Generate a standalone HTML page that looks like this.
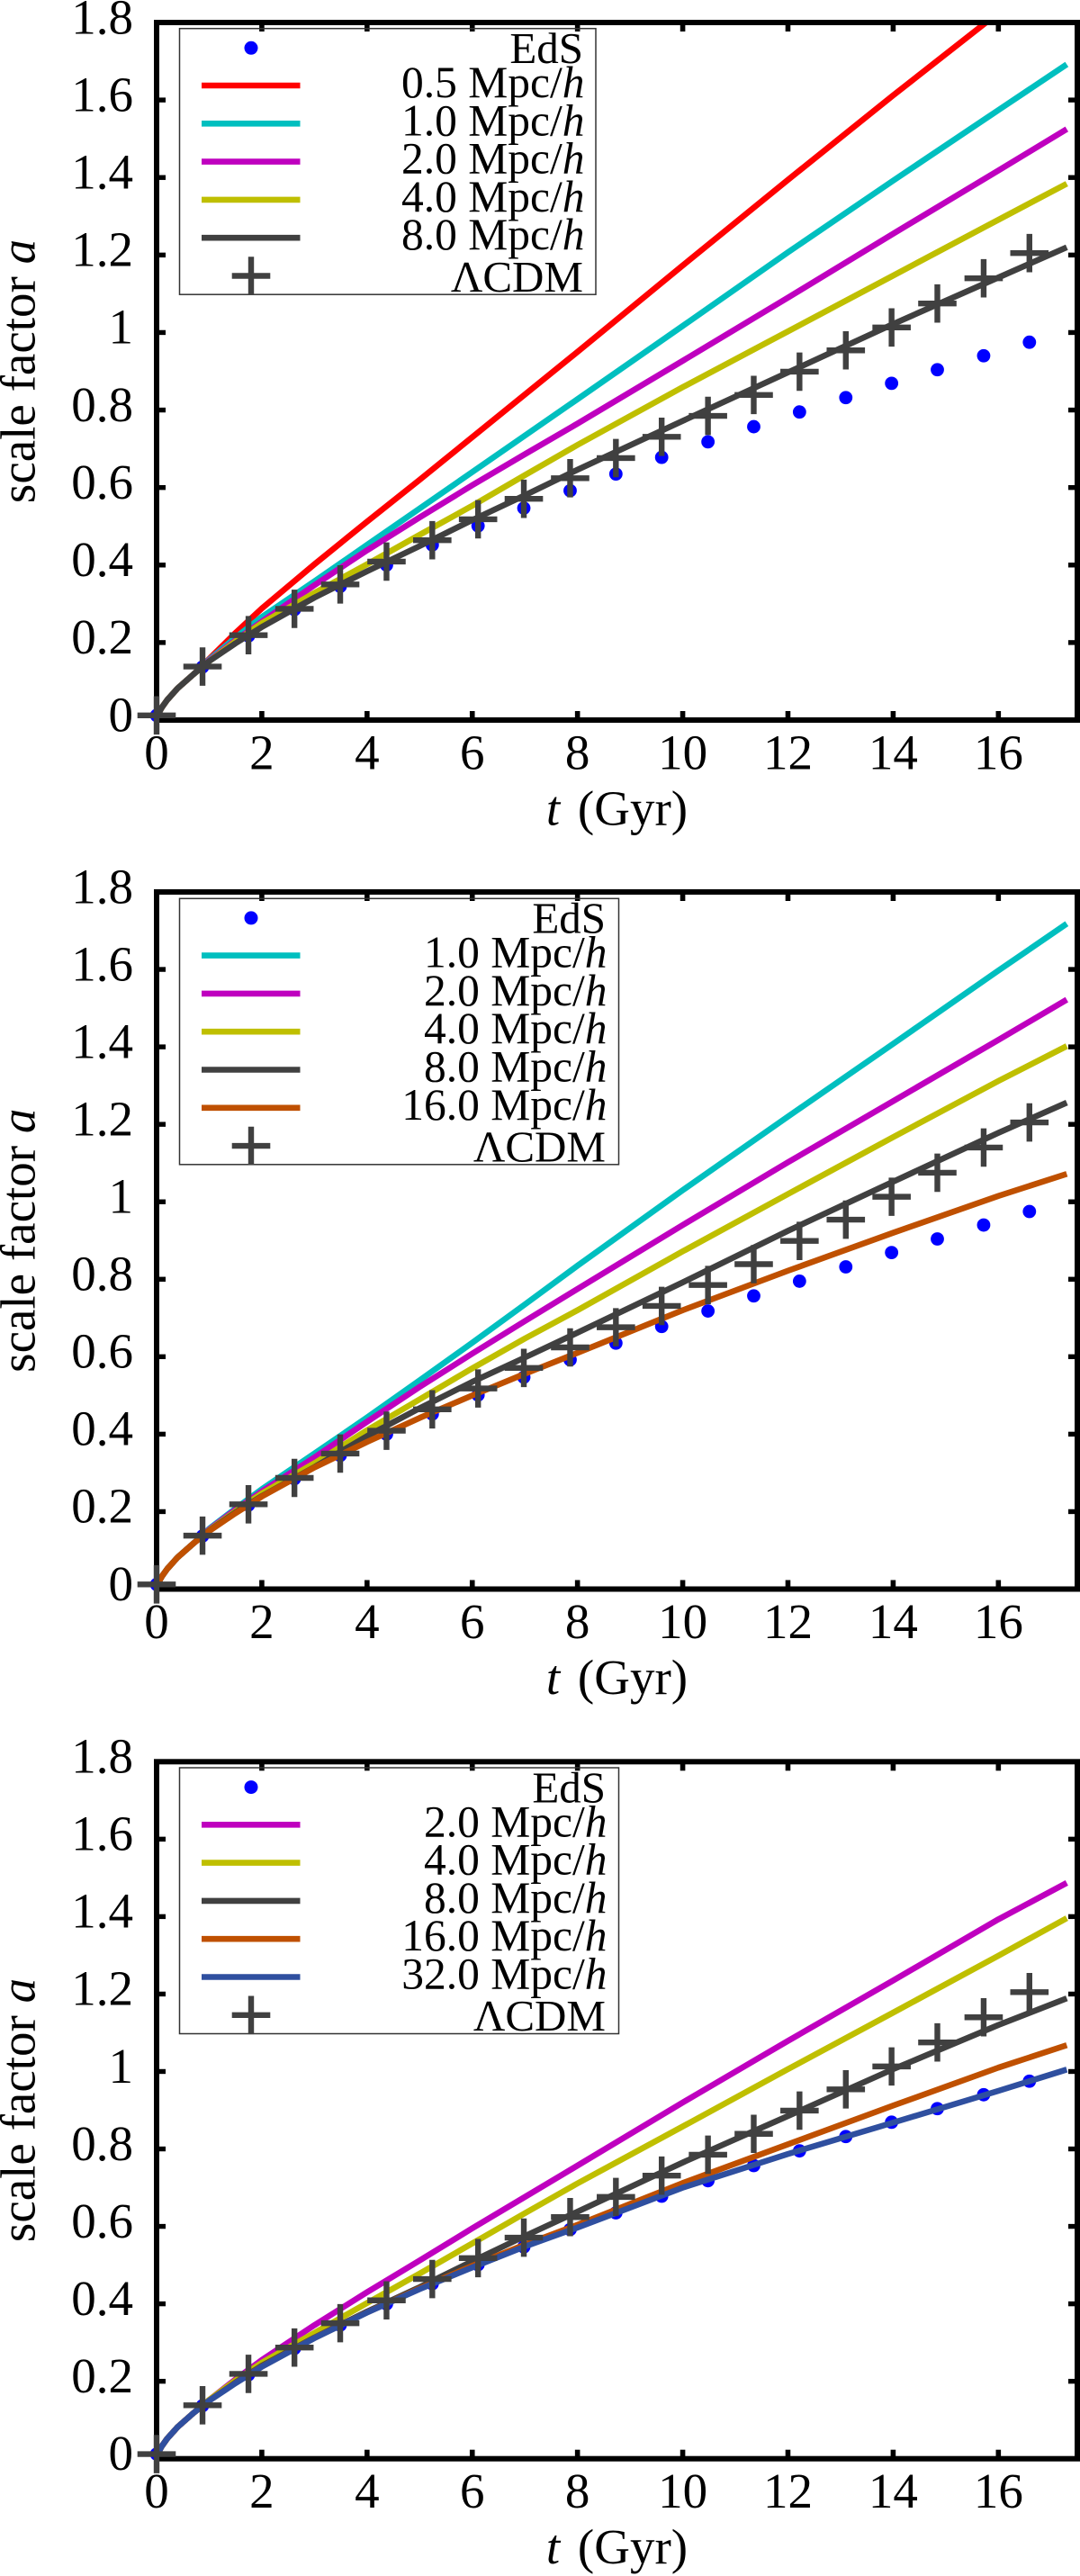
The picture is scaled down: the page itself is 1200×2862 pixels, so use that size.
<!DOCTYPE html>
<html lang="en">
<head>
<meta charset="utf-8">
<title>Scale factor vs time</title>
<style>
html,body{margin:0;padding:0;background:#fff;}
svg{display:block;}
text{font-family:"Liberation Serif",serif;fill:#000;}
</style>
</head>
<body>
<svg id="chart" xmlns="http://www.w3.org/2000/svg" width="1200" height="2862" viewBox="0 0 1200 2862"></svg>
<script>
// ---------- shared axis labels ----------
const xTickValues = [0, 2, 4, 6, 8, 10, 12, 14, 16];
const yTickValues = [0, 0.2, 0.4, 0.6, 0.8, 1, 1.2, 1.4, 1.6, 1.8];
const yTickLabels = ['0', '0.2', '0.4', '0.6', '0.8', '1', '1.2', '1.4', '1.6', '1.8'];

// ---------- marker series (t in Gyr, a) ----------
const markerTimes = [0, 0.873, 1.746, 2.62, 3.49, 4.37, 5.24, 6.11, 6.98, 7.86, 8.73, 9.6, 10.48, 11.35, 12.22, 13.1, 13.97, 14.84, 15.72, 16.59];
const edsValues = [0.012, 0.137, 0.217, 0.285, 0.345, 0.4, 0.452, 0.501, 0.547, 0.592, 0.635, 0.678, 0.718, 0.757, 0.795, 0.832, 0.869, 0.904, 0.94, 0.975];
const lcdmValues = [0.012, 0.138, 0.219, 0.287, 0.35, 0.409, 0.464, 0.518, 0.571, 0.624, 0.676, 0.731, 0.785, 0.839, 0.899, 0.954, 1.013, 1.075, 1.14, 1.205];

// ---------- curve sample times (Gyr) ----------
const curveTimes = [0, 0.05, 0.1, 0.2, 0.4, 0.7, 1, 1.5, 2, 3, 4, 5, 6, 7, 8, 10, 12, 14, 16, 17.3];

// ---------- top panel curves ----------
const p1Mpc05 = [0.012, 0.0205, 0.0326, 0.0517, 0.082, 0.118, 0.158, 0.225, 0.288, 0.402, 0.512, 0.62, 0.73, 0.84, 0.95, 1.173, 1.394, 1.612, 1.825, 1.96];
const p1Mpc1 = [0.012, 0.0205, 0.0326, 0.0517, 0.082, 0.118, 0.156, 0.213, 0.266, 0.358, 0.452, 0.546, 0.64, 0.734, 0.828, 1.017, 1.207, 1.392, 1.574, 1.692];
const p1Mpc2 = [0.012, 0.0205, 0.0326, 0.0517, 0.082, 0.118, 0.154, 0.206, 0.254, 0.348, 0.438, 0.523, 0.606, 0.686, 0.765, 0.927, 1.09, 1.255, 1.418, 1.525];
const p1Mpc4 = [0.012, 0.0205, 0.0326, 0.0517, 0.082, 0.118, 0.152, 0.203, 0.25, 0.328, 0.402, 0.478, 0.553, 0.632, 0.71, 0.859, 1.003, 1.147, 1.291, 1.384];
const p1Mpc8 = [0.012, 0.0205, 0.0326, 0.0517, 0.082, 0.118, 0.152, 0.198, 0.24, 0.316, 0.384, 0.449, 0.516, 0.58, 0.646, 0.772, 0.897, 1.022, 1.142, 1.22];

// ---------- middle panel curves ----------
const p2Mpc1 = [0.012, 0.0205, 0.0326, 0.0517, 0.082, 0.118, 0.156, 0.208, 0.258, 0.35, 0.443, 0.539, 0.636, 0.735, 0.835, 1.03, 1.22, 1.408, 1.597, 1.718];
const p2Mpc2 = [0.012, 0.0205, 0.0326, 0.0517, 0.082, 0.118, 0.154, 0.205, 0.252, 0.34, 0.432, 0.522, 0.608, 0.692, 0.775, 0.94, 1.102, 1.26, 1.418, 1.522];
const p2Mpc4 = [0.012, 0.0205, 0.0326, 0.0517, 0.082, 0.118, 0.152, 0.201, 0.247, 0.325, 0.41, 0.49, 0.57, 0.647, 0.72, 0.872, 1.02, 1.167, 1.312, 1.402];
const p2Mpc8 = [0.012, 0.0205, 0.0326, 0.0517, 0.082, 0.118, 0.151, 0.198, 0.24, 0.315, 0.395, 0.467, 0.535, 0.598, 0.662, 0.792, 0.925, 1.052, 1.178, 1.256];
const p2Mpc16 = [0.012, 0.0205, 0.0326, 0.0517, 0.082, 0.118, 0.15, 0.196, 0.239, 0.314, 0.38, 0.442, 0.5, 0.556, 0.61, 0.72, 0.822, 0.92, 1.015, 1.072];

// ---------- bottom panel curves ----------
const p3Mpc2 = [0.012, 0.0205, 0.0326, 0.0517, 0.082, 0.118, 0.152, 0.205, 0.255, 0.345, 0.43, 0.512, 0.595, 0.676, 0.757, 0.92, 1.079, 1.235, 1.393, 1.487];
const p3Mpc4 = [0.012, 0.0205, 0.0326, 0.0517, 0.082, 0.118, 0.152, 0.202, 0.248, 0.325, 0.402, 0.478, 0.556, 0.634, 0.711, 0.858, 1.006, 1.152, 1.299, 1.396];
const p3Mpc8 = [0.012, 0.0205, 0.0326, 0.0517, 0.082, 0.118, 0.15, 0.197, 0.24, 0.313, 0.38, 0.443, 0.51, 0.575, 0.638, 0.765, 0.885, 1.006, 1.12, 1.189];
const p3Mpc16 = [0.012, 0.0205, 0.0326, 0.0517, 0.082, 0.118, 0.15, 0.196, 0.238, 0.312, 0.378, 0.44, 0.498, 0.553, 0.604, 0.712, 0.812, 0.912, 1.01, 1.068];
const p3Mpc32 = [0.012, 0.0205, 0.0326, 0.0517, 0.082, 0.118, 0.15, 0.195, 0.2375, 0.3115, 0.3775, 0.438, 0.494, 0.548, 0.597, 0.7, 0.787, 0.868, 0.95, 1.005];

// ---------- colours per smoothing scale ----------
const scaleColors = {'0.5': '#ff0000', '1.0': '#00bfbf', '2.0': '#bf00bf', '4.0': '#bfbf00', '8.0': '#404040', '16.0': '#bf5000', '32.0': '#2f4f9f'};

const panelDefs = [
  {id: 'top', top: 25, bottom: 800, legendTop: 31.7, legendRight: 662, textRight: 648,
   scales: ['0.5', '1.0', '2.0', '4.0', '8.0'], curves: [p1Mpc05, p1Mpc1, p1Mpc2, p1Mpc4, p1Mpc8]},
  {id: 'middle', top: 991, bottom: 1765.5, legendTop: 998.3, legendRight: 687.5, textRight: 673,
   scales: ['1.0', '2.0', '4.0', '8.0', '16.0'], curves: [p2Mpc1, p2Mpc2, p2Mpc4, p2Mpc8, p2Mpc16]},
  {id: 'bottom', top: 1957.3, bottom: 2731.7, legendTop: 1964, legendRight: 687.5, textRight: 673,
   scales: ['2.0', '4.0', '8.0', '16.0', '32.0'], curves: [p3Mpc2, p3Mpc4, p3Mpc8, p3Mpc16, p3Mpc32]}
];

const NS = 'http://www.w3.org/2000/svg';
const svg = document.getElementById('chart');
const plotLeft = 174, plotRight = 1197, xMax = 17.5, yMax = 1.8;
const xScale = t => plotLeft + t * (plotRight - plotLeft) / xMax;

function mk(parent, tag, geometry, content) {
  const el = document.createElementNS(NS, tag);
  for (const k in geometry) el.setAttribute(k, geometry[k]);
  if (content !== undefined) el.textContent = content;
  parent.appendChild(el);
  return el;
}

function drawPlus(parent, cx, cy) {
  const d = 'M' + (cx - 21.3) + ' ' + cy + 'H' + (cx + 21.3) + 'M' + cx + ' ' + (cy - 21.3) + 'V' + (cy + 21.3);
  return mk(parent, 'path', {d: d, stroke: '#404040', 'stroke-width': 6.4, fill: 'none'});
}

panelDefs.forEach(function (p) {
  const yScale = a => p.bottom - (a / yMax) * (p.bottom - p.top);
  const g = mk(svg, 'g', {});
  
  

  const clipId = 'clip-' + p.id;
  const defs = mk(g, 'defs', {});
  const clip = mk(defs, 'clipPath', {id: clipId});
  mk(clip, 'rect', {x: plotLeft, y: p.top, width: plotRight - plotLeft, height: p.bottom - p.top});

  // ticks on all four sides
  xTickValues.forEach(function (v) {
    const x = xScale(v);
    if (v > 0) {
      const tb = mk(g, 'line', {x1: x, x2: x, y1: p.bottom, y2: p.bottom - 10, stroke: '#000', 'stroke-width': 5.6});
      
      
      const tt = mk(g, 'line', {x1: x, x2: x, y1: p.top, y2: p.top + 10, stroke: '#000', 'stroke-width': 5.6});
      
      
    }
    const lab = mk(g, 'text', {x: x, y: p.bottom + 54.5, 'font-size': 55, 'text-anchor': 'middle'}, String(v));
    
    
  });
  yTickValues.forEach(function (v, i) {
    const y = yScale(v);
    if (v > 0 && v < yMax) {
      const tl = mk(g, 'line', {x1: plotLeft, x2: plotLeft + 10, y1: y, y2: y, stroke: '#000', 'stroke-width': 5.4});
      
      
      const tr = mk(g, 'line', {x1: plotRight, x2: plotRight - 10, y1: y, y2: y, stroke: '#000', 'stroke-width': 5.4});
      
      
    }
    const lab = mk(g, 'text', {x: 148, y: y + 12.3, 'font-size': 55, 'text-anchor': 'end'}, yTickLabels[i]);
    
    
  });

  // axis titles
  const xTitle = mk(g, 'text', {x: (plotLeft + plotRight) / 2, y: p.bottom + 116.3, 'font-size': 55, 'text-anchor': 'middle'});
  
  
  mk(xTitle, 'tspan', {'font-style': 'italic'}, 't');
  mk(xTitle, 'tspan', {dx: 6}, ' (Gyr)');

  const cy = (p.top + p.bottom) / 2;
  const yTitle = mk(g, 'text', {x: 0, y: 0, 'font-size': 55, 'text-anchor': 'middle', transform: 'translate(38.5 ' + cy + ') rotate(-90)'});
  
  
  mk(yTitle, 'tspan', {}, 'scale factor ');
  mk(yTitle, 'tspan', {'font-style': 'italic'}, 'a');

  // legend frame
  const legendLeft = 199.5, legendHeight = 295.5;
  const legend = mk(g, 'g', {});
  
  
  const frame = mk(legend, 'rect', {x: legendLeft, y: p.legendTop, width: p.legendRight - legendLeft, height: legendHeight, fill: 'none', stroke: '#333', 'stroke-width': 1.5});
  
  

  const sampleCx = 279, sampleX1 = 224, sampleX2 = 333.5;
  const dotY = p.legendTop + 21.6;
  const rowY0 = p.legendTop + 63.3, rowStep = 42.3;

  const legDot = mk(legend, 'circle', {cx: sampleCx, cy: dotY, r: 7.5, fill: '#0000ff'});
  
  
  const legEds = mk(legend, 'text', {x: p.textRight, y: dotY + 16.7, 'font-size': 49, 'text-anchor': 'end'}, 'EdS');
  
  

  p.scales.forEach(function (s, i) {
    const ry = rowY0 + i * rowStep;
    const sym = mk(legend, 'line', {x1: sampleX1, x2: sampleX2, y1: ry, y2: ry, stroke: scaleColors[s], 'stroke-width': 6.6});
    
    
    const lab = mk(legend, 'text', {x: p.textRight + 1.5, y: ry + 13, 'font-size': 49.5, 'text-anchor': 'end'});
    
    
    mk(lab, 'tspan', {}, s + ' Mpc/');
    mk(lab, 'tspan', {'font-style': 'italic'}, 'h');
  });

  const plusY = rowY0 + 5 * rowStep;
  const legPlus = drawPlus(legend, sampleCx, plusY);
  
  
  const legL = mk(legend, 'text', {x: p.textRight, y: plusY + 17.3, 'font-size': 49, 'text-anchor': 'end'}, '\u039BCDM');
  
  

  // EdS points (beneath curves)
  const dots = mk(g, 'g', {});
  
  
  markerTimes.forEach(function (t, i) {
    const d = mk(dots, 'circle', {cx: xScale(t), cy: yScale(edsValues[i]), r: 7.4, fill: '#0000ff'});
    
    
  });

  // curves
  p.curves.forEach(function (vals, i) {
    const s = p.scales[i];
    const pts = curveTimes.map((t, k) => xScale(t).toFixed(2) + ',' + yScale(vals[k]).toFixed(2)).join(' ');
    const line = mk(g, 'polyline', {points: pts, fill: 'none', stroke: scaleColors[s], 'stroke-width': 6.6, 'stroke-linejoin': 'round', 'clip-path': 'url(#' + clipId + ')'});
    
    
  });

  // frame
  const border = mk(g, 'rect', {x: plotLeft, y: p.top, width: plotRight - plotLeft, height: p.bottom - p.top, fill: 'none', stroke: '#000', 'stroke-width': 6});
  
  

  // LCDM crosses (on top)
  const crosses = mk(g, 'g', {});
  
  
  markerTimes.forEach(function (t, i) {
    const c = drawPlus(crosses, xScale(t), yScale(lcdmValues[i]));
    
    
  });
});
</script>
</body>
</html>
